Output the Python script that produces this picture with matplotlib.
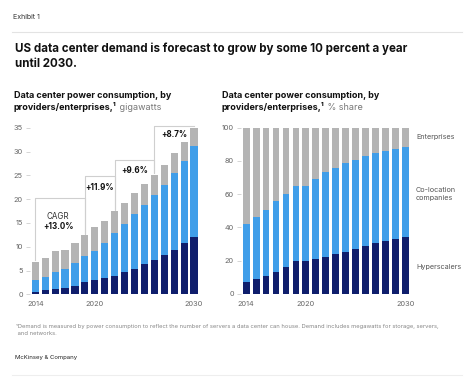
import numpy as np
import matplotlib
matplotlib.use('Agg')
import matplotlib.pyplot as plt

plt.rcParams['font.family'] = ['Inter', 'DejaVu Sans']

W, H = 474, 391

years = list(range(2014, 2031))
xtick_years = [2014, 2020, 2030]

# gigawatts, stacked tops
hyper_gw = [0.5, 0.8, 1.05, 1.3, 1.8, 2.6, 2.9, 3.4, 3.9, 4.6, 5.4, 6.3, 7.2, 8.3, 9.4, 10.7, 12.1]
colo_top_gw = [2.9, 3.6, 4.6, 5.3, 6.6, 8.0, 9.1, 10.8, 12.8, 14.7, 16.8, 18.8, 20.9, 23.0, 25.5, 28.1, 31.1]
total_gw = [6.7, 7.7, 9.0, 9.4, 10.8, 12.4, 14.1, 15.5, 17.4, 19.1, 21.2, 23.1, 25.1, 27.2, 29.6, 32.1, 35.0]

# % share, stacked tops
hyper_pct = [6.8, 8.6, 10.8, 13.3, 16.3, 19.7, 19.7, 21.1, 22.1, 23.7, 25.1, 26.7, 28.5, 30.3, 31.5, 32.7, 34.1]
colo_top_pct = [41.8, 46.4, 50.6, 55.6, 59.8, 64.9, 64.9, 68.9, 73.1, 75.9, 78.9, 80.7, 82.7, 84.5, 85.7, 87.1, 88.4]

# CAGR brackets: start year, end year, level (GW), label
cagr_start = [2014, 2019, 2022, 2026]
cagr_end = [2019, 2022, 2026, 2030]
cagr_level = [20.2, 24.8, 28.3, 35.3]
cagr_labels = ['+13.0%', '+11.9%', '+9.6%', '+8.7%']
cagr_label_pos = [(2016.3, 14.2), (2020.5, 22.4), (2024.05, 26.0), (2028.0, 33.6)]

NAVY = '#0f1e6c'
BLUE = '#409ee9'
GREY = '#b4b4b4'
LINE = '#cfcfcf'
TICK = '#666666'
SMALL = 5.3


def fx(px):
    return px / W


def fy(py):
    return 1 - py / H


fig = plt.figure(figsize=(W / 100, H / 100), dpi=100)
fig.patch.set_facecolor('white')


def fit(t, width_px):
    # scale a text so its widest line spans width_px
    fig.canvas.draw()
    bb = t.get_window_extent()
    t.set_fontsize(t.get_fontsize() * width_px / bb.width)
    return t.get_fontsize()


x = np.arange(len(years))
bw = 0.72


def style_axes(ax, ymax, yticks):
    for s in ax.spines.values():
        s.set_visible(False)
    ax.set_xlim(-0.55, len(years) - 0.45)
    ax.set_ylim(0, ymax)
    ax.set_yticks(yticks)
    ax.set_xticks([years.index(y) for y in xtick_years])
    ax.set_xticklabels([str(y) for y in xtick_years])
    ax.tick_params(axis='y', length=3, width=0.6, color=LINE, labelcolor=TICK, labelsize=SMALL, pad=2)
    ax.tick_params(axis='x', length=0, labelcolor=TICK, labelsize=SMALL, pad=5)


# left chart
ax1 = fig.add_axes([fx(29.85), fy(294.3), fx(169.6), 166.6 / H])
hyper = np.array(hyper_gw)
colo = np.array(colo_top_gw) - hyper
ent = np.array(total_gw) - np.array(colo_top_gw)
ax1.bar(x, hyper, bw, color=NAVY)
ax1.bar(x, colo, bw, bottom=hyper, color=BLUE)
ax1.bar(x, ent, bw, bottom=hyper + colo, color=GREY)
style_axes(ax1, 35, range(0, 36, 5))

for s, e, lv in zip(cagr_start, cagr_end, cagr_level):
    i0, i1 = years.index(s), years.index(e)
    ax1.plot([i0, i0, i1, i1], [total_gw[i0] + 0.5, lv, lv, total_gw[i1] + 0.3],
             color=LINE, lw=0.8, clip_on=False, zorder=1)
for lab, (px, py) in zip(cagr_labels, cagr_label_pos):
    t = ax1.text(px - 2014, py, lab, ha='center', va='center', fontsize=6, fontweight='bold', color='#111111')
fit(t, 26)
for tt in ax1.texts:
    tt.set_fontsize(t.get_fontsize())
ax1.text(cagr_label_pos[0][0] - 2014, 16.3, 'CAGR', ha='center', va='center',
         fontsize=t.get_fontsize(), color='#333333')

# right chart
ax2 = fig.add_axes([fx(240.7), fy(293.7), fx(170.1), 166 / H])
hp = np.array(hyper_pct)
cp = np.array(colo_top_pct) - hp
ep = 100 - np.array(colo_top_pct)
ax2.bar(x, hp, bw * 0.95, color=NAVY)
ax2.bar(x, cp, bw * 0.95, bottom=hp, color=BLUE)
ax2.bar(x, ep, bw * 0.95, bottom=hp + cp, color=GREY)
style_axes(ax2, 100, range(0, 101, 20))

t = fig.text(fx(416), fy(267), 'Hyperscalers', fontsize=6.5, color='#555555', va='center')
fs = fit(t, 46)
fig.text(fx(416), fy(137), 'Enterprises', fontsize=fs, color='#555555', va='center')
fig.text(fx(416), fy(194), 'Co-location\ncompanies', fontsize=fs, color='#555555', va='center', linespacing=1.4)

# header
t = fig.text(fx(13), fy(17), 'Exhibit 1', fontsize=5, color='#333333', va='center')
fit(t, 27)
fig.add_artist(plt.Line2D([fx(12), fx(462)], [fy(32), fy(32)], color='#e3e3e3', lw=0.8))
t = fig.text(fx(15), fy(56), 'US data center demand is forecast to grow by some 10 percent a year\nuntil 2030.',
             fontsize=9, fontweight='bold', color='#111111', va='center', linespacing=1.3)
fit(t, 390)

# panel titles
for px, unit in [(14, ' gigawatts'), (222, ' % share')]:
    t1 = fig.text(fx(px), fy(96), 'Data center power consumption, by', fontsize=7,
                  fontweight='bold', color='#111111', va='center')
    fs = fit(t1, 158)
    t = fig.text(fx(px), fy(107.5), 'providers/enterprises,\u00b9', fontsize=fs,
                 fontweight='bold', color='#111111', va='center')
    fig.canvas.draw()
    ax1.annotate(unit, xy=(1, 0.5), xycoords=t, va='center', fontsize=fs, color='#777777',
                 annotation_clip=False)

# footer
t = fig.text(fx(16), fy(330), '\u00b9Demand is measured by power consumption to reflect the number of servers a data center can house. '
             'Demand includes megawatts for storage, servers,\n and networks.',
             fontsize=4.3, color='#888888', va='center', linespacing=1.5)
fit(t, 421)
t = fig.text(fx(15), fy(357), 'McKinsey & Company', fontsize=5, color='#222222', va='center')
fit(t, 62)
fig.add_artist(plt.Line2D([fx(12), fx(462)], [fy(375), fy(375)], color='#eeeeee', lw=0.8))

fig.savefig('out.png', dpi=100, facecolor='white')
